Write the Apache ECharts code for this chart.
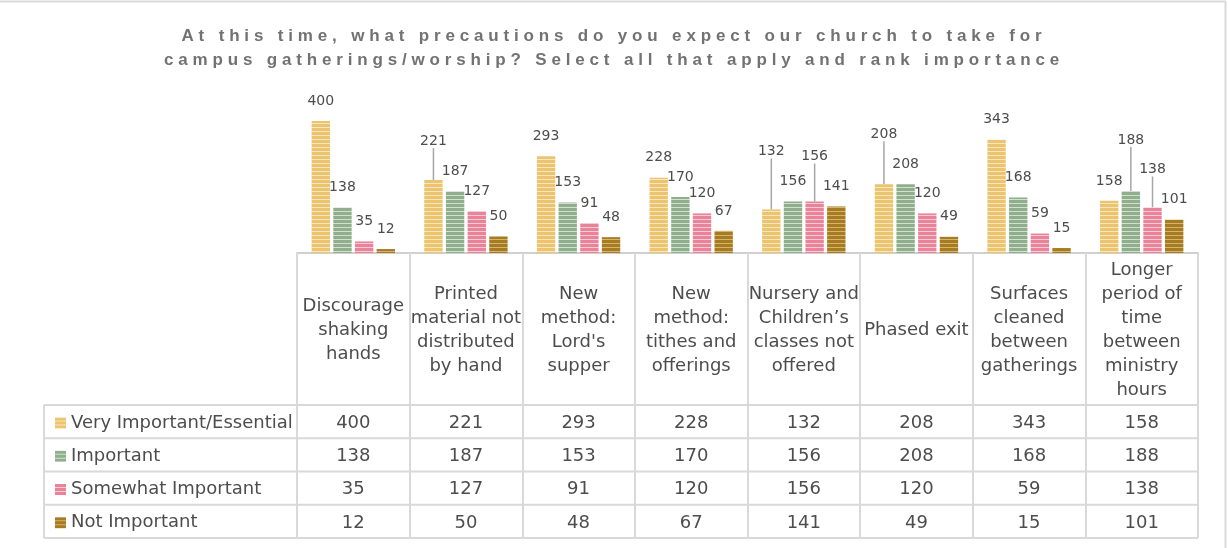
<!DOCTYPE html>
<html>
<head>
<meta charset="utf-8">
<title>Church precautions survey</title>
<style>
  body { margin: 0; padding: 0; background-color: white; }
  #wrap { position: relative; width: 1228px; height: 548px; }
  #main { width: 1228px; height: 548px; }
  #title {
    position: absolute; left: 0; top: 24px; width: 1228px;
    text-align: center; color: #727272;
    font-family: "Liberation Sans Narrow", "Liberation Sans", sans-serif;
    font-weight: bold; font-size: 17px; line-height: 24px;
  }
  #title span { display: block; white-space: nowrap; }
</style>
</head>
<body>
<div id="wrap">
  <div id="main"></div>
  <div id="title">
    <span>At this time, what precautions do you expect our church to take for</span>
    <span>campus gatherings/worship? Select all that apply and rank importance</span>
  </div>
</div>
<script src="https://cdn.jsdelivr.net/npm/echarts@6/dist/echarts.min.js"></script>
<script type="text/javascript">
  var categories = [
    'Discourage\nshaking\nhands',
    'Printed\nmaterial not\ndistributed\nby hand',
    'New\nmethod:\nLord\'s\nsupper',
    'New\nmethod:\ntithes and\nofferings',
    'Nursery and\nChildren\u2019s\nclasses not\noffered',
    'Phased exit',
    'Surfaces\ncleaned\nbetween\ngatherings',
    'Longer\nperiod of\ntime\nbetween\nministry\nhours'
  ];
  var seriesNames = ['Very Important/Essential', 'Important', 'Somewhat Important', 'Not Important'];
  var veryImportant = [400, 221, 293, 228, 132, 208, 343, 158];
  var important = [138, 187, 153, 170, 156, 208, 168, 188];
  var somewhatImportant = [35, 127, 91, 120, 156, 120, 59, 138];
  var notImportant = [12, 50, 48, 67, 141, 49, 15, 101];
  var values = [veryImportant, important, somewhatImportant, notImportant];

  // stretch title letters like the original (wide letter spacing)
  var spans = document.querySelectorAll('#title span');
  var probe = document.createElement('span');
  probe.style.cssText = 'position:absolute;visibility:hidden;white-space:nowrap;display:inline';
  document.getElementById('title').appendChild(probe);
  probe.textContent = spans[0].textContent;
  var natural = probe.getBoundingClientRect().width;
  var spacing = (865 - natural) / spans[0].textContent.length;
  probe.remove();
  for (var i = 0; i < spans.length; i++) spans[i].style.letterSpacing = spacing + 'px';

  function stripes(base, light) {
    var c = document.createElement('canvas');
    c.width = 4; c.height = 4;
    var ctx = c.getContext('2d');
    ctx.fillStyle = base; ctx.fillRect(0, 0, 4, 4);
    ctx.fillStyle = light; ctx.fillRect(0, 3, 4, 1);
    return c;
  }
  var fills = [
    stripes('#ecc46f', '#f8e6bd'),
    stripes('#8faf8c', '#d3e0d0'),
    stripes('#e8839a', '#f7cbd4'),
    stripes('#a67b22', '#d4b46e')
  ];

  var font = 'DejaVu Sans';
  var textColor = '#4d4d4d';
  var lineColor = '#d9d9d9';
  var gridLeft = 297, gridRight = 30, gridTop = 88, gridBottom = 295;
  var rowTop = 405, rowH = 133 / 4;
  var catGap = 0.26, barGap = 0.18;

  var myChart = echarts.init(document.getElementById('main'));

  function buildSeries(dist) {
    return values.map(function (vals, s) {
      return {
        name: seriesNames[s],
        type: 'bar',
        barGap: '18%',
        barCategoryGap: '26%',
        animation: false,
        emphasis: { disabled: true },
        itemStyle: { color: { image: fills[s], repeat: 'repeat' } },
        label: {
          show: true, position: 'top', distance: 13,
          fontFamily: font, fontSize: 14, color: textColor
        },
        labelLine: { show: false, lineStyle: { color: '#a6a6a6', width: 1.5 } },
        data: vals.map(function (v, c) {
          if (!dist) return v;
          var d = dist[s][c];
          return {
            value: v,
            label: { show: true, distance: d },
            labelLine: { show: d > 16 }
          };
        })
      };
    });
  }

  var option = {
    backgroundColor: 'white',
    textStyle: { fontFamily: font },
    grid: { left: gridLeft, right: gridRight, top: gridTop, bottom: gridBottom },
    legend: {
      orient: 'vertical', left: 50, top: rowTop + 3,
      icon: 'rect', itemWidth: 11, itemHeight: 11, itemGap: rowH - 20,
      selectedMode: false,
      textStyle: { fontFamily: font, fontSize: 18, color: textColor, lineHeight: 20 },
      data: seriesNames
    },
    xAxis: {
      type: 'category',
      data: categories,
      axisLine: { lineStyle: { color: '#d0d0d0', width: 2 } },
      axisTick: { show: true, length: 285, lineStyle: { color: lineColor, width: 2 } },
      axisLabel: {
        interval: 0, margin: 77, verticalAlign: 'middle',
        fontFamily: font, fontSize: 18, lineHeight: 24, color: textColor
      }
    },
    yAxis: { type: 'value', min: 0, max: 500, show: false, splitLine: { show: false } },
    series: buildSeries(null)
  };
  myChart.setOption(option);

  // place value labels: start above each bar, lift a label over its right neighbour when they collide
  var measure = document.createElement('canvas').getContext('2d');
  measure.font = '14px "' + font + '"';
  var dist = values.map(function () { return []; });
  var band = myChart.convertToPixel({ xAxisIndex: 0 }, 1) - myChart.convertToPixel({ xAxisIndex: 0 }, 0);
  var nBars = values.length;
  var barW = band * (1 - catGap) / (nBars + (nBars - 1) * barGap);
  for (var ci = 0; ci < categories.length; ci++) {
    var placed = [];
    var center = myChart.convertToPixel({ xAxisIndex: 0 }, ci);
    for (var s = nBars - 1; s >= 0; s--) {
      var cx = center - band * (1 - catGap) / 2 + s * barW * (1 + barGap) + barW / 2;
      var barTop = myChart.convertToPixel({ yAxisIndex: 0 }, values[s][ci]);
      var cy = barTop - 20;
      var w = measure.measureText(String(values[s][ci])).width;
      var moved = true;
      while (moved) {
        moved = false;
        for (var k = 0; k < placed.length; k++) {
          var p = placed[k];
          if (Math.abs(p.x - cx) < (p.w + w) / 2 + 1 && Math.abs(p.y - cy) < 15) {
            cy = p.y - 30;
            moved = true;
          }
        }
      }
      placed.push({ x: cx, y: cy, w: w });
      dist[s][ci] = Math.round(barTop - cy - 7);
    }
  }

  // data table below the axis
  var graphic = [];
  var xRight = 1228 - gridRight;
  for (var r = 0; r <= 4; r++) {
    graphic.push({
      type: 'line', silent: true,
      shape: { x1: 44, y1: rowTop + r * rowH, x2: xRight, y2: rowTop + r * rowH },
      style: { stroke: lineColor, lineWidth: 2 }
    });
  }
  graphic.push({
    type: 'line', silent: true,
    shape: { x1: 44, y1: rowTop, x2: 44, y2: rowTop + 4 * rowH },
    style: { stroke: lineColor, lineWidth: 2 }
  });
  // outer chart border (top and right edges visible)
  graphic.push({ type: 'line', silent: true, shape: { x1: 0, y1: 1.5, x2: 1226, y2: 1.5 }, style: { stroke: '#d9d9d9', lineWidth: 2 } });
  graphic.push({ type: 'line', silent: true, shape: { x1: 1225.5, y1: 1.5, x2: 1225.5, y2: 548 }, style: { stroke: '#d9d9d9', lineWidth: 2 } });
  values.forEach(function (vals, s) {
    vals.forEach(function (v, c) {
      var x = myChart.convertToPixel({ xAxisIndex: 0 }, c);
      graphic.push({
        type: 'text', silent: true,
        x: x, y: rowTop + s * rowH + rowH / 2 + 1.5,
        style: {
          text: String(v), fontFamily: font, fontSize: 18, fill: textColor,
          align: 'center', verticalAlign: 'middle'
        }
      });
    });
  });

  myChart.setOption({ series: buildSeries(dist), graphic: graphic });
</script>
</body>
</html>
